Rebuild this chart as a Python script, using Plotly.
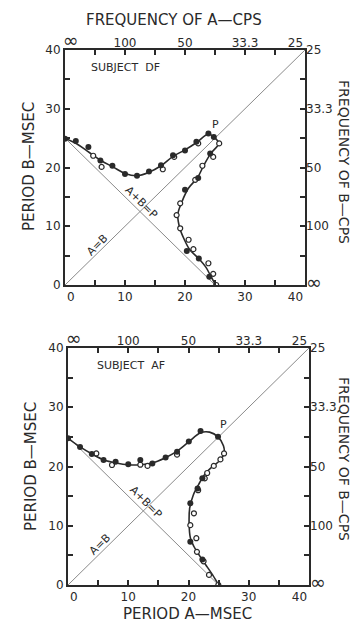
import plotly.graph_objects as go

# ---------------- data: Subject DF (upper panel) ----------------
df_fill_x = [0, 1.8, 3.9, 5.9, 7.9, 10, 12, 14, 16, 18, 20, 21.9, 23.9, 24.8,
             24.2, 22.2, 20.0, 20.3, 22.3, 24.05]
df_fill_y = [24.9, 24.5, 23.5, 21.2, 20.3, 18.9, 18.6, 19.3, 20.4, 22.1, 22.9, 24.4, 25.8, 25.2,
             22.4, 18.2, 16.2, 5.8, 4.5, 1.4]
df_open_x = [4.7, 6.1, 16.3, 18.2, 22.2, 25.7, 24.7, 22.9, 21.7, 19.2, 18.6, 19.2, 20.6, 21.4,
             23.9, 24.7, 25.2]
df_open_y = [22.0, 20.1, 19.7, 21.8, 24.1, 24.1, 21.8, 20.3, 17.9, 13.9, 11.9, 9.65, 7.7, 6.1,
             3.7, 1.9, 0]
df_curve_x = [0, 2, 4, 6, 8, 10, 12, 14, 16, 18, 20, 22, 23.9, 24.8, 25.6, 24.3, 23.1, 22.1,
              20.6, 19.5, 18.8, 19.1, 19.9, 20.8, 22.2, 23.5, 24.3, 25.1]
df_curve_y = [25, 24, 22.6, 21.2, 20.1, 19, 18.6, 19.2, 20.3, 21.9, 23, 24.3, 25.7, 25.2, 24.1,
              22.4, 20.3, 18.3, 16.5, 14.2, 12, 9.8, 7.7, 6, 4.6, 3, 1.5, 0]

# ---------------- data: Subject AF (lower panel) ----------------
af_fill_x = [0, 2, 3.95, 5.9, 7.9, 10, 12, 14, 16.2, 18.1, 20.05, 22, 24.9,
             22.3, 21.5, 20.3, 20.3, 22.3]
af_fill_y = [24.75, 23.3, 22.1, 21.1, 20.8, 20.4, 21.1, 20.5, 21.5, 22.5, 24.2, 26.0, 25.0,
             18.0, 16.3, 13.8, 7.3, 4.3]
af_open_x = [4.7, 7.3, 12, 13.2, 18.1, 25.9, 25.3, 24.2, 23.1, 22.7, 21.6, 20.9, 20.3, 21.3,
             21.4, 22.5, 23.4, 24.95]
af_open_y = [22.2, 20.25, 20.3, 20.1, 22.0, 22.2, 21.2, 20.1, 18.9, 18.0, 16.0, 12.1, 10.1, 7.9,
             5.6, 4.0, 1.7, 0]
af_curve_x = [0, 2, 4, 6, 8, 10, 12, 14, 16, 18, 20, 22, 23.5, 24.9, 25.8, 25.9, 25.2, 24, 22.8,
              21.7, 20.8, 20.2, 20.1, 20.3, 20.9, 21.8, 22.8, 24, 25]
af_curve_y = [24.75, 23.3, 22.1, 21.1, 20.6, 20.3, 20.3, 20.6, 21.4, 22.5, 24.1, 25.7, 25.8, 25.0,
              23.5, 22.2, 21.0, 20, 18.8, 17, 15.2, 13, 10.5, 8, 6.5, 5, 3.5, 1.7, 0]

# reference lines
diag_x = [0, 40]
diag_y = [0, 40]
sum_x = [0, 25]
sum_y = [25, 0]

# tick labels (end labels sit slightly inward, as printed)
NB = "\u00a0"
period_ticks = [0, 5, 10, 15, 20, 25, 30, 35, 40]
period_text_x = [NB * 3 + "0", "", "10", "", "20", "", "30", "", "40" + NB * 5]
period_text_y = ["0", "", "10", "", "20", "", "30", "", "40"]
freq_ticks = [0, 10, 20, 30, 40]
freq_text_x = [NB * 3 + "<span style='font-size:19px'>∞</span>", "100", "50", "33.3", "25" + NB * 5]
freq_text_y = ["<span style='font-size:19px'>∞</span>", "100", "50", "33.3", "25"]

INK = "#2a2a2a"
FONT = "DejaVu Sans"

fig = go.Figure()


def add_panel(xa, ya, fx, fy, ox, oy, cx, cy):
    fig.add_trace(go.Scatter(x=diag_x, y=diag_y, mode="lines", xaxis=xa, yaxis=ya,
                             line=dict(color="#8a8a8a", width=1), hoverinfo="skip", showlegend=False))
    fig.add_trace(go.Scatter(x=sum_x, y=sum_y, mode="lines", xaxis=xa, yaxis=ya,
                             line=dict(color="#8a8a8a", width=1), hoverinfo="skip", showlegend=False))
    fig.add_trace(go.Scatter(x=cx, y=cy, mode="lines", xaxis=xa, yaxis=ya, line_shape="spline",
                             line=dict(color=INK, width=1.6), showlegend=False))
    fig.add_trace(go.Scatter(x=ox, y=oy, mode="markers", xaxis=xa, yaxis=ya,
                             marker=dict(size=5, color="white", line=dict(color=INK, width=1.2)),
                             showlegend=False))
    fig.add_trace(go.Scatter(x=fx, y=fy, mode="markers", xaxis=xa, yaxis=ya,
                             marker=dict(size=6, color=INK), showlegend=False))


add_panel("x", "y", df_fill_x, df_fill_y, df_open_x, df_open_y, df_curve_x, df_curve_y)
add_panel("x2", "y2", af_fill_x, af_fill_y, af_open_x, af_open_y, af_curve_x, af_curve_y)
# placeholder traces so the frequency axes are drawn
fig.add_trace(go.Scatter(x=[None], y=[None], xaxis="x3", yaxis="y3", showlegend=False, hoverinfo="skip"))
fig.add_trace(go.Scatter(x=[None], y=[None], xaxis="x4", yaxis="y4", showlegend=False, hoverinfo="skip"))

# the page body adds an 8 px margin; the figure is sized to fit inside the window
OFF = 8
W, H = 359 - OFF, 624 - OFF


def fx_(px):
    return (px - OFF) / W


def fy_(py):
    return 1 - (py - OFF) / H


top_x = [fx_(65), fx_(305)]
top_y = [fy_(285), fy_(50)]
bot_x = [fx_(68), fx_(309)]
bot_y = [fy_(585), fy_(348)]

tickfont = dict(family=FONT, size=12, color=INK)


def period_axis(domain, anchor, text):
    return dict(domain=domain, anchor=anchor, range=[0, 40], tickvals=period_ticks,
                ticktext=text, ticks="inside", ticklen=5, tickwidth=1.5, tickcolor=INK,
                showline=True, linecolor=INK, linewidth=2, mirror="ticks", showgrid=False,
                zeroline=False, tickfont=tickfont, fixedrange=True, automargin=False)


def freq_axis(overlay, side, domain, anchor, text):
    return dict(overlaying=overlay, side=side, domain=domain, anchor=anchor, range=[0, 40],
                tickvals=freq_ticks, ticktext=text, ticks="", showline=False,
                showgrid=False, zeroline=False, tickfont=tickfont, fixedrange=True,
                automargin=False)


fig.update_layout(
    width=W, height=H,
    margin=dict(l=0, r=0, t=0, b=0, pad=0),
    paper_bgcolor="white", plot_bgcolor="white",
    xaxis=period_axis(top_x, "y", period_text_x),
    yaxis=period_axis(top_y, "x", period_text_y),
    xaxis2=period_axis(bot_x, "y2", period_text_x),
    yaxis2=period_axis(bot_y, "x2", period_text_y),
    xaxis3=dict(freq_axis("x", "top", top_x, "y3", freq_text_x)),
    yaxis3=dict(freq_axis("y", "right", top_y, "x3", freq_text_y)),
    xaxis4=dict(freq_axis("x2", "top", bot_x, "y4", freq_text_x)),
    yaxis4=dict(freq_axis("y2", "right", bot_y, "x4", freq_text_y)),
    showlegend=False,
)

ann_font = dict(family=FONT, size=15, color=INK)
side_font = dict(family=FONT, size=14, color=INK)
small_font = dict(family=FONT, size=11, color=INK)


def pann(text, px, py, angle=0, font=ann_font):
    return dict(text=text, x=fx_(px), y=fy_(py), xref="paper", yref="paper",
                xanchor="center", yanchor="middle", showarrow=False, font=font,
                textangle=angle)


def dann(text, x, y, xr, yr, angle=0):
    return dict(text=text, x=x, y=y, xref=xr, yref=yr, xanchor="center", yanchor="middle",
                showarrow=False, font=small_font, textangle=angle)


anns = [
    pann("FREQUENCY OF A—CPS", 174, 20),
    pann("PERIOD A—MSEC", 188, 614),
    pann("PERIOD B—MSEC", 29, 167, -90),
    pann("PERIOD B—MSEC", 31, 467, -90),
    pann("FREQUENCY OF B—CPS", 344, 162, 90, side_font),
    pann("FREQUENCY OF B—CPS", 344, 459, 90, side_font),
    dann("SUBJECT\u00a0\u00a0DF", 10, 37, "x", "y"),
    dann("SUBJECT\u00a0\u00a0AF", 10.5, 37, "x2", "y2"),
    dann("P", 25.1, 27.3, "x", "y"),
    dann("P", 25.8, 27.1, "x2", "y2"),
    dann("A+B=P", 12.7, 14, "x", "y", 45),
    dann("A=B", 5.3, 6.8, "x", "y", -45),
    dann("A+B=P", 13.0, 14, "x2", "y2", 45),
    dann("A=B", 5.3, 6.8, "x2", "y2", -45),
]
fig.update_layout(annotations=anns)

fig.write_html("out.html")
